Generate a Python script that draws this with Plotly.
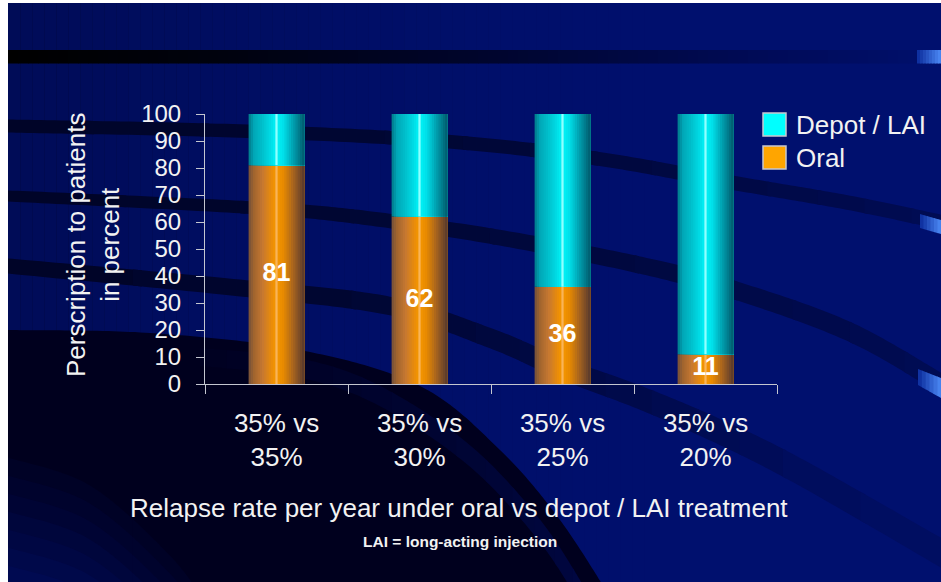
import numpy as np
import plotly.graph_objects as go

# ---------------- data ----------------
categories = ["35% vs<br>35%", "35% vs<br>30%", "35% vs<br>25%", "35% vs<br>20%"]
oral = [81, 62, 36, 11]
depot = [19, 38, 64, 89]
series_names = ["Depot / LAI", "Oral"]
y_tick_values = [0, 10, 20, 30, 40, 50, 60, 70, 80, 90, 100]

# ---------------- style ----------------
FONT = "Liberation Sans, Arial, Helvetica, sans-serif"
TXT = "#f2f2f2"
AXC = "#c4c6d0"
BG = "#00106e"
W, H = 941, 582
PL, PR, PT, PB = 205, 777, 114, 384   # plot area in pixels
BW = 0.39                               # bar width (category units)
NSTRIP = 25

ORANGE_STOPS = [(0.0, "#74503a"), (0.10, "#a2652e"), (0.25, "#c67832"), (0.40, "#e88a0c"),
                (0.47, "#f29400"), (0.50, "#f9b458"), (0.53, "#f29400"), (0.62, "#e88a00"),
                (0.80, "#a8641e"), (1.0, "#56392e")]
CYAN_STOPS = [(0.0, "#00788a"), (0.10, "#00a8b8"), (0.25, "#00c0cc"), (0.40, "#00dde6"),
              (0.47, "#00f0f4"), (0.50, "#90ffff"), (0.53, "#00f0f4"), (0.62, "#00e0ea"),
              (0.80, "#00a0b0"), (1.0, "#005a6c")]


def P(x, y):
    return (x - PL) / (PR - PL), (PB - y) / (PB - PT)


def hex_rgb(h):
    h = h.lstrip('#')
    return tuple(int(h[i:i + 2], 16) for i in (0, 2, 4))


def grad(stops, t):
    for i in range(len(stops) - 1):
        p0, c0 = stops[i]
        p1, c1 = stops[i + 1]
        if t <= p1 or i == len(stops) - 2:
            f = 0 if p1 == p0 else min(max((t - p0) / (p1 - p0), 0), 1)
            a, b = hex_rgb(c0), hex_rgb(c1)
            return "rgb(%d,%d,%d)" % tuple(round(a[k] + (b[k] - a[k]) * f) for k in range(3))


def mix(c0, c1, f):
    a, b = hex_rgb(c0), hex_rgb(c1)
    return "rgb(%d,%d,%d)" % tuple(round(a[k] + (b[k] - a[k]) * f) for k in range(3))


def path_from(pts):
    s = ""
    for i, (x, y) in enumerate(pts):
        a, b = P(x, y)
        s += ("M" if i == 0 else "L") + f"{a:.5f},{b:.5f}"
    return s + "Z"


def catmull(pts, per=30):
    Q = [pts[0]] + list(pts) + [pts[-1]]
    out = []
    for i in range(1, len(Q) - 2):
        p0, p1, p2, p3 = [np.array(Q[j], float) for j in (i - 1, i, i + 1, i + 2)]
        for t in np.linspace(0, 1, per, endpoint=False):
            t2, t3 = t * t, t * t * t
            out.append(0.5 * ((2 * p1) + (-p0 + p2) * t + (2 * p0 - 5 * p1 + 4 * p2 - p3) * t2
                              + (-p0 + 3 * p1 - 3 * p2 + p3) * t3))
    out.append(np.array(pts[-1], float))
    return np.array(out)


shapes = []


def add_path(pts, color):
    shapes.append(dict(type="path", path=path_from(pts), xref="paper", yref="paper",
                       fillcolor=color, line=dict(width=0), layer="below"))


def add_rect(x0, y0, x1, y1, color, layer="below", line=None):
    a0, b0 = P(x0, y0)
    a1, b1 = P(x1, y1)
    shapes.append(dict(type="rect", x0=a0, y0=b0, x1=a1, y1=b1, xref="paper", yref="paper",
                       fillcolor=color, line=line or dict(width=0), layer=layer))


def band(pts, th0, th1, dark, f0, f1, pieces=14):
    c = catmull(pts)
    n = len(c)
    th = np.linspace(th0, th1, n)
    idx = np.linspace(0, n - 1, pieces + 1).astype(int)
    for k in range(pieces):
        i0, i1 = idx[k], min(idx[k + 1] + 2, n)
        seg, tt = c[i0:i1], th[i0:i1]
        up = [(x, y - t / 2) for (x, y), t in zip(seg, tt)]
        lo = [(x, y + t / 2) for (x, y), t in zip(seg, tt)][::-1]
        f = f0 + (f1 - f0) * (k + 0.5) / pieces
        add_path(up + lo, mix(BG, dark, f))


def tab(x0, x1, yt0, yt1, yb0, yb1, c0, c1, n=8):
    xs = np.linspace(x0, x1, n + 1)
    for k in range(n):
        xa, xb = xs[k], min(xs[k + 1] + 0.6, x1 + 1)
        fa, fb = (xa - x0) / (x1 - x0), (xb - x0) / (x1 - x0)
        pts = [(xa, yt0 + (yt1 - yt0) * fa), (xb, yt0 + (yt1 - yt0) * fb),
               (xb, yb0 + (yb1 - yb0) * fb), (xa, yb0 + (yb1 - yb0) * fa)]
        add_path(pts, mix(c0, c1, (k + 0.5) / n))


# ---------------- background ----------------
add_rect(8, 3, W + 2, H + 2, BG)
# gentle darkening toward the left
for x in range(8, 700, 12):
    a = 0.25 * (1 - (x - 8) / 692) ** 1.6
    add_rect(x, 3, x + 12.5, H + 2, f"rgba(0,0,20,{a:.3f})")
# top horizontal band
band_stops = [(0.0, "#000000"), (0.23, "#00020e"), (0.53, "#00052e"), (0.83, "#000b58"), (1.0, "#000f6a")]
for x in range(8, 917, 10):
    add_rect(x, 50, min(x + 10.6, 917), 63.5, grad(band_stops, (x - 8) / 909))
tab(917, 941, 50, 50, 63.5, 63.5, "#0a2a9a", "#4c8af6", n=8)

DARK = "#000426"
BLACK = "#00001e"
# big dark region bottom-left (drawn first, stripes go over it)
edge = catmull([(8, 330), (150, 333), (300, 350), (420, 386), (500, 450), (560, 520), (612, 600)])
add_path([tuple(p) for p in edge] + [(8, 600)], BLACK)
# lighter curved band inside the dark region
band([(200, 357), (300, 368), (380, 396), (470, 456), (540, 531), (585, 600)], 18, 24, BLACK, 0.97, 0.55)
# soft lightening toward the bottom-left corner
for i in range(7):
    f = 0.9 - 0.09 * i
    band([(8, 468 + 18 * i), (90, 496 + 18 * i), (170, 566 + 18 * i), (210, 620 + 18 * i)],
         21, 21, BLACK, f, f, pieces=2)
# curved stripes
band([(8, 126), (240, 131), (440, 141), (593, 158), (734, 183), (850, 203), (945, 223)],
     13, 15, DARK, 1.0, 0.35)
band([(8, 196), (240, 207), (350, 216), (490, 236), (635, 264), (734, 290), (850, 332), (945, 386)],
     11, 22, DARK, 1.0, 0.35)
band([(8, 266), (240, 288), (390, 306), (490, 338), (560, 368), (641, 398), (720, 432), (800, 472), (945, 555)],
     15, 30, DARK, 1.0, 0.15)
# bright ends of stripes at the right edge
tab(920, 941, 214, 220, 228, 234, "#0a2a9a", "#4c8af6", n=6)
tab(918, 941, 369, 378, 385, 398, "#0a2a9a", "#4c8af6", n=6)

# ---------------- legend (manual, large swatches) ----------------
add_rect(763, 113, 786, 136, "#00ffff", layer="above", line=dict(color="#c8c8d0", width=1.5))
add_rect(763, 146, 786, 169, "#ffa500", layer="above", line=dict(color="#c8c8d0", width=1.5))

# ---------------- bars (cylinder shading by layered strips) ----------------
fig = go.Figure()
for name, vals, bases, stops in [("Oral", oral, [0] * len(oral), ORANGE_STOPS),
                                 ("Depot / LAI", depot, oral, CYAN_STOPS)]:
    for k in range(NSTRIP):
        fig.add_trace(go.Bar(
            x=categories, y=vals, base=bases, name=name,
            offset=-BW / 2 + k * BW / NSTRIP, width=BW - k * BW / NSTRIP,
            marker=dict(color=grad(stops, (k + 0.5) / NSTRIP), line=dict(width=0)),
            showlegend=False, hoverinfo="skip"))

fig.add_trace(go.Scatter(
    x=categories, y=[v / 2 for v in oral], mode="text", text=[str(v) for v in oral],
    textfont=dict(family=FONT, size=25, color="white", weight="bold"),
    textposition="middle center", showlegend=False, hoverinfo="skip"))

annotations = []


def ann(text, x, y, size, bold=False, angle=0, xanchor="center"):
    a, b = P(x, y)
    annotations.append(dict(text=text, x=a, y=b, xref="paper", yref="paper", showarrow=False,
                            xanchor=xanchor, yanchor="middle", textangle=angle,
                            font=dict(family=FONT, size=size, color=TXT,
                                      weight="bold" if bold else "normal")))


ann("Perscription to patients<br>in percent", 93, 245, 26, angle=-90)
ann("Relapse rate per year under oral vs depot / LAI treatment", 459, 508, 26)
ann("LAI = long-acting injection", 460, 541, 15.5, bold=True)
ann(series_names[0], 794, 125, 26, xanchor="left")
ann(series_names[1], 794, 158, 26, xanchor="left")

fig.update_layout(
    width=W, height=H, autosize=False,
    margin=dict(l=PL, r=W - PR, t=PT, b=H - PB, pad=0, autoexpand=False),
    paper_bgcolor="white", plot_bgcolor="rgba(0,0,0,0)",
    barmode="overlay", showlegend=False,
    font=dict(family=FONT, color=TXT),
    shapes=shapes, annotations=annotations,
    xaxis=dict(type="category", range=[-0.5, 3.5], showline=True, linecolor=AXC, linewidth=1,
               ticks="outside", tickson="boundaries", ticklen=9, tickcolor=AXC, tickwidth=1,
               tickfont=dict(family=FONT, size=26, color=TXT), ticklabelstandoff=16,
               showgrid=False, zeroline=False, fixedrange=True),
    yaxis=dict(range=[0, 100], tickvals=y_tick_values, showline=True, linecolor=AXC, linewidth=1,
               ticks="outside", ticklen=8, tickcolor=AXC, tickwidth=1,
               tickfont=dict(family=FONT, size=24, color=TXT), ticklabelstandoff=10,
               showgrid=False, zeroline=False, fixedrange=True),
)

fig.write_html("out.html")
